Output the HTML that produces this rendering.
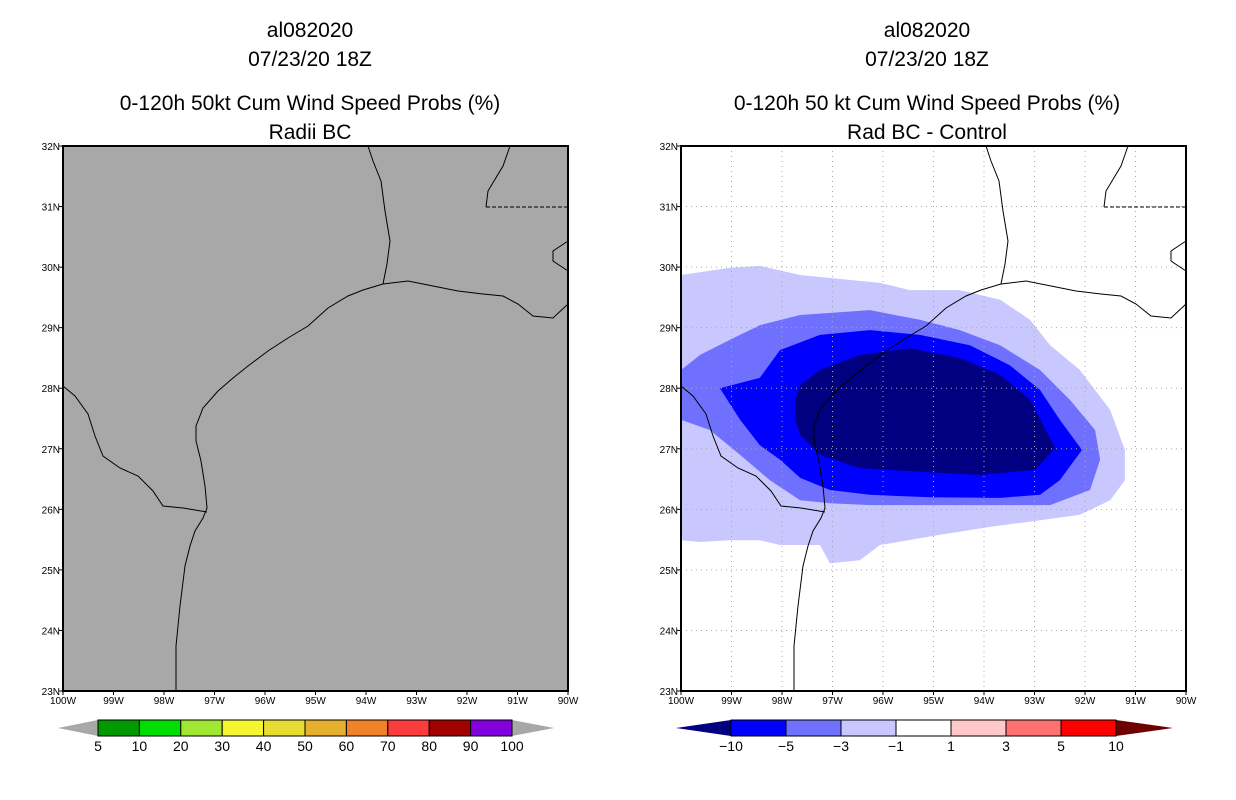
<!DOCTYPE html>
<html><head><meta charset="utf-8">
<style>
html,body{margin:0;padding:0;background:#fff;}
svg{display:block;font-family:"Liberation Sans",sans-serif;}
</style></head>
<body>
<svg id="root" width="1236" height="800" viewBox="0 0 1236 800" xmlns="http://www.w3.org/2000/svg">
<g id="titles" font-size="21" text-anchor="middle" fill="#000">
 <text x="310" y="37">al082020</text>
 <text x="310" y="66">07/23/20 18Z</text>
 <text x="310" y="110">0-120h 50kt Cum Wind Speed Probs (%)</text>
 <text x="310" y="139">Radii BC</text>
 <text x="927" y="37">al082020</text>
 <text x="927" y="66">07/23/20 18Z</text>
 <text x="927" y="110">0-120h 50 kt Cum Wind Speed Probs (%)</text>
 <text x="927" y="139">Rad BC - Control</text>
</g>
<g id="left-panel"></g>
<g id="right-panel"></g>
<g id="left-cbar"></g>
<g id="right-cbar"></g>
</svg>
<script>
// ---- data ----
const lonTicks = [-100,-99,-98,-97,-96,-95,-94,-93,-92,-91,-90];
const latTicks = [23,24,25,26,27,28,29,30,31,32];
const leftLevels = ["5","10","20","30","40","50","60","70","80","90","100"];
const leftColors = ["#009900","#00dd00","#a0e632","#f5f532","#e6dc32","#e6af2d","#f08228","#fa3c3c","#a00000","#8200dc"];
const rightLevels = ["-10","-5","-3","-1","1","3","5","10"];
const rightColors = ["#0000ff","#7070ff","#c8c8ff","#ffffff","#ffc8c8","#ff7070","#ff0000"];
const rightLowColor = "#000080";
const rightHighColor = "#6e0000";
// difference contour regions (lon, lat)
const contourLon1 = [-100,-99.03,-98.44,-97.64,-96.06,-95.47,-94.48,-93.68,-93.09,-92.69,-92.1,-91.5,-91.21,-91.21,-91.5,-92.1,-92.89,-93.88,-94.87,-96.06,-96.46,-97.05,-97.25,-98.04,-98.44,-99.03,-99.62,-100];
const contourLat1 = [29.87,29.99,30.02,29.87,29.74,29.62,29.62,29.46,29.13,28.71,28.3,27.64,26.98,26.48,26.15,25.91,25.82,25.71,25.58,25.41,25.16,25.11,25.41,25.41,25.49,25.49,25.46,25.49];
const contourLon3 = [-100,-99.62,-99.03,-98.44,-97.64,-96.26,-95.27,-94.48,-93.68,-92.89,-92.3,-91.8,-91.7,-91.9,-92.69,-93.68,-95.07,-96.26,-97.05,-97.64,-98.24,-98.83,-99.43,-100];
const contourLat3 = [28.3,28.55,28.8,29.04,29.21,29.29,29.13,28.96,28.71,28.3,27.81,27.31,26.82,26.32,26.07,26.07,26.07,26.07,26.1,26.15,26.48,26.9,27.31,27.48];
const contourLon5 = [-99.23,-98.44,-98.04,-97.25,-96.26,-95.27,-94.28,-93.49,-92.89,-92.5,-92.06,-92.5,-92.89,-93.68,-95.07,-96.26,-97.05,-97.64,-98.04,-98.44,-98.83];
const contourLat5 = [28.0,28.17,28.63,28.88,28.96,28.88,28.71,28.38,27.97,27.48,26.98,26.48,26.24,26.19,26.2,26.24,26.32,26.52,26.82,27.06,27.48];
const contourLon10 = [-97.74,-97.64,-97.25,-96.46,-95.47,-94.48,-93.68,-93.09,-92.59,-92.99,-94.08,-95.27,-96.46,-97.25,-97.64,-97.74];
const contourLat10 = [27.81,28.05,28.3,28.55,28.66,28.5,28.22,27.81,27.01,26.65,26.57,26.62,26.68,26.9,27.23,27.48];
// basemap (panel-relative pixels)
const coast = [[113,545],[113,500],[117,460],[122,420],[127,400],[132,385],[140,372],[144,362],[142,340],[138,315],[133,295],[133,280],[140,262],[155,245],[170,232],[185,220],[205,205],[225,192],[245,180],[265,162],[285,150],[300,144],[320,138],[345,135],[370,140],[395,145],[420,148],[440,150],[455,158],[470,170],[490,172],[505,158]];
const rioGrande = [[144,366],[120,362],[100,360],[90,345],[75,330],[57,322],[40,310],[32,290],[25,268],[12,250],[0,240]];
const sabine = [[320,138],[324,118],[327,95],[322,65],[318,35],[310,15],[305,0]];
const miss = [[423,61],[425,45],[440,20],[447,0]];
const laBorder = [[423,61],[505,61]];
const laCoast = [[505,95],[490,105],[490,115],[505,125]];

const NS="http://www.w3.org/2000/svg";
function mk(tag,attrs,parent){const e=document.createElementNS(NS,tag);for(const k in attrs)e.setAttribute(k,attrs[k]);parent.appendChild(e);return e;}
const W=505,H=545;
function xs(lon,x0){return x0+(lon+100)/10*W;}
function ys(lat){return 146+(32-lat)/9*H;}
function polyStr(pts,x0){return pts.map(p=>(x0+p[0])+","+(146+p[1])).join(" ");}

function drawPanel(g,x0,bg,grid){
  const r=mk('rect',{x:x0,y:146,width:W,height:H,fill:bg},g);
  
  
  return r;
}
function drawBase(g,x0,grid){
  if(grid){
    lonTicks.forEach(l=>{const ln=mk('line',{x1:xs(l,x0),x2:xs(l,x0),y1:146,y2:691,stroke:"#aaa","stroke-dasharray":"1,4","stroke-width":1},g);
      
      });
    latTicks.forEach(l=>{const ln=mk('line',{x1:x0,x2:x0+W,y1:ys(l),y2:ys(l),stroke:"#aaa","stroke-dasharray":"1,4","stroke-width":1},g);
      
      });
  }
  [coast,rioGrande,sabine,miss,laCoast].forEach(c=>{const p=mk('polyline',{points:polyStr(c,x0),fill:"none",stroke:"#000","stroke-width":1},g);
    
    });
  const d=mk('polyline',{points:polyStr(laBorder,x0),fill:"none",stroke:"#000","stroke-dasharray":"4,2","stroke-width":1},g);
  
  
  const fr=mk('rect',{x:x0,y:146,width:W,height:H,fill:"none",stroke:"#000","stroke-width":2},g);
  
  
  lonTicks.forEach(l=>{const x=xs(l,x0);mk('line',{x1:x,x2:x,y1:691,y2:695,stroke:"#000"},g);
    const t=mk('text',{x:x,y:704,"font-size":10,"text-anchor":"middle"},g);t.textContent=Math.abs(l)+"W";
    
    });
  latTicks.forEach(l=>{const y=ys(l);mk('line',{x1:x0-4,x2:x0,y1:y,y2:y,stroke:"#000"},g);
    const t=mk('text',{x:x0-3,y:y+4,"font-size":10,"text-anchor":"end"},g);t.textContent=l+"N";
    
    });
}
const lp=document.getElementById('left-panel');
drawPanel(lp,63,"#a8a8a8");drawBase(lp,63,false);
const rp=document.getElementById('right-panel');
drawPanel(rp,681,"#ffffff");
[[contourLon1,contourLat1,rightColors[2],'contour-minus-1'],[contourLon3,contourLat3,rightColors[1],'contour-minus-3'],[contourLon5,contourLat5,rightColors[0],'contour-minus-5'],[contourLon10,contourLat10,rightLowColor,'contour-minus-10']].forEach(c=>{
  const pts=c[0].map((lon,i)=>xs(lon,681)+","+ys(c[1][i])).join(" ");
  const p=mk('polygon',{points:pts,fill:c[2]},rp);
  
  
});
drawBase(rp,681,true);

function cbar(g,tipL,x0,x1,tipR,colors,labels,lowC,highC){
  const y0=720,y1=736,ym=728,n=colors.length,bw=(x1-x0)/n;
  const a=mk('polygon',{points:`${tipL},${ym} ${x0},${y0} ${x0},${y1}`,fill:lowC},g);
  
  
  const b=mk('polygon',{points:`${tipR},${ym} ${x1},${y0} ${x1},${y1}`,fill:highC},g);
  
  
  colors.forEach((c,i)=>{const r=mk('rect',{x:x0+i*bw,y:y0,width:bw,height:y1-y0,fill:c,stroke:"#000","stroke-width":1},g);
    
    });
  labels.forEach((l,i)=>{const t=mk('text',{x:x0+i*bw,y:751,"font-size":14,"text-anchor":"middle"},g);t.textContent=l.replace('-','\u2212');
    
    });
}
cbar(document.getElementById('left-cbar'),58,98,512,554,leftColors,leftLevels,"#a8a8a8","#a8a8a8");
cbar(document.getElementById('right-cbar'),676,731,1116,1173,rightColors,rightLevels,rightLowColor,rightHighColor);
</script>
</body></html>
